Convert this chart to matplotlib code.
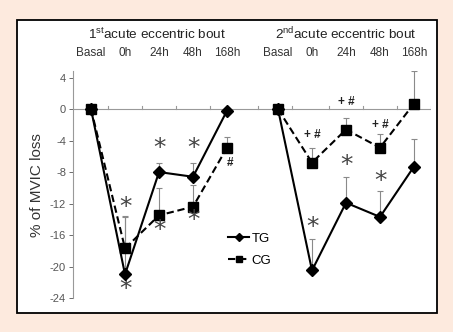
import matplotlib
matplotlib.use("Agg")
import matplotlib.pyplot as plt
from matplotlib.patches import Rectangle

plt.rcParams['font.family'] = ['Liberation Sans', 'DejaVu Sans']
plt.rcParams['mathtext.fontset'] = 'custom'
plt.rcParams['mathtext.rm'] = 'Liberation Sans'

# data
times = ['Basal', '0h', '24h', '48h', '168h']
x1 = [0, 1, 2, 3, 4]
x2 = [5.5, 6.5, 7.5, 8.5, 9.5]

tg1 = [0, -21.0, -8.0, -8.6, -0.2]
tg1_err = [0, 7.4, 1.2, 1.7, 0]
cg1 = [0, -17.7, -13.5, -12.4, -4.9]
cg1_err = [0, 4.0, 3.5, 2.8, 1.3]

tg2 = [0, -20.5, -11.9, -13.7, -7.3]
tg2_err = [0, 4.0, 3.3, 3.3, 3.5]
cg2 = [0, -6.8, -2.6, -4.9, 0.7]
cg2_err = [0, 1.9, 1.5, 1.7, 4.1]

# significance marks (x, y, text)
marks = [(1, -12.4, '*'), (1, -22.8, '*'), (2, -5.0, '*'), (2, -15.4, '*'),
         (3, -5.0, '*'), (3, -14.1, '*'), (4.1, -6.9, '#'),
         (6.5, -15.0, '*'), (7.5, -7.1, '*'), (8.5, -9.1, '*'),
         (6.5, -3.3, '+ #'), (7.5, 0.9, '+ #'), (8.5, -2.0, '+ #')]

fig = plt.figure(figsize=(4.53, 3.32), dpi=100, facecolor='#fdeade')
W, H = 453, 332
fig.patches.append(Rectangle((17 / W, 1 - 313 / H), 420 / W, 293 / H,
                             transform=fig.transFigure, facecolor='white',
                             edgecolor='black', linewidth=1.3, zorder=-5))

ax = fig.add_axes([73 / W, 1 - 298 / H, 358 / W, 226.7 / H])
ax.set_facecolor('none')

for xs, tg, te, cg, ce in [(x1, tg1, tg1_err, cg1, cg1_err), (x2, tg2, tg2_err, cg2, cg2_err)]:
    ax.errorbar(xs, tg, yerr=[[0] * 5, te], fmt='none', ecolor='#8a8a8a',
                elinewidth=0.8, capsize=2, capthick=0.8, zorder=2)
    ax.errorbar(xs, cg, yerr=[[0] * 5, ce], fmt='none', ecolor='#8a8a8a',
                elinewidth=0.8, capsize=2, capthick=0.8, zorder=2)
    ax.plot(xs, tg, color='black', lw=1.5, marker='D', ms=6.5, zorder=4,
            label='TG' if xs is x1 else None)
    ax.plot(xs, cg, color='black', lw=1.5, ls=(0, (3.5, 1.8)), marker='s', ms=6.5,
            zorder=3, label='CG' if xs is x1 else None)

for x, y, t in marks:
    if t == '*':
        ax.text(x, y, t, ha='center', va='center', fontsize=18, color='#444444',
                family='DejaVu Sans')
    else:
        ax.text(x, y, t, ha='center', va='center', fontsize=8.5, color='#222222',
                fontweight='bold')

ax.set_xlim(-0.53, 10)
ax.set_ylim(-24, 4.8)
ax.set_yticks(range(-24, 5, 4))
ax.set_yticklabels([str(v) for v in range(-24, 5, 4)])
ax.tick_params(axis='y', labelsize=8, colors='#555555', length=3, width=0.6, pad=2)
ax.set_xticks([])
for s in ['top', 'right', 'bottom']:
    ax.spines[s].set_visible(False)
ax.spines['left'].set_color('#999999')
ax.spines['left'].set_linewidth(0.8)
ax.axhline(0, color='#999999', lw=0.8, zorder=1)
for t in [0.5, 1.5, 2.5, 3.5, 4.9, 5.9, 7, 8, 9, 10]:
    ax.plot([t, t], [0, 0.35], color='#999999', lw=0.8, zorder=1)

ax.set_ylabel('% of MVIC loss', fontsize=11, color='#333333', labelpad=4)

# top labels
for xs in (x1, x2):
    for x, lab in zip(xs, times):
        ax.text(x, 7.1, lab, ha='center', va='center', fontsize=8.5,
                color='#333333', clip_on=False)
ax.text(1.95, 9.5, r'1$^{\mathrm{st}}$acute eccentric bout', ha='center', va='center',
        fontsize=9.7, color='#222222', clip_on=False)
ax.text(7.5, 9.5, r'2$^{\mathrm{nd}}$acute eccentric bout', ha='center', va='center',
        fontsize=9.7, color='#222222', clip_on=False)

leg = ax.legend(loc='upper left', bbox_to_anchor=(0.40, 0.34), frameon=False,
                fontsize=9.5, handlelength=1.6, handletextpad=0.2, labelspacing=0.7,
                markerscale=0.7)

fig.savefig('out.png', dpi=100, facecolor=fig.get_facecolor())
